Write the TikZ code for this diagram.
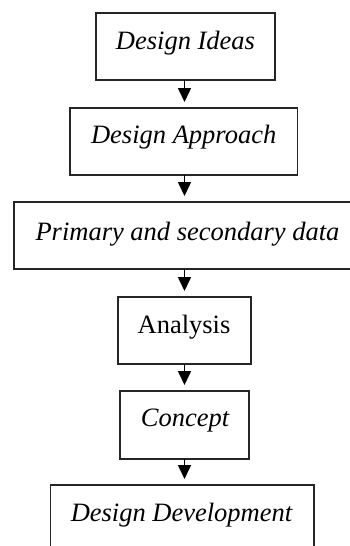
\documentclass[tikz,border=0pt]{standalone}
\usepackage{fontspec}
\setmainfont{Liberation Serif}
\usetikzlibrary{arrows.meta}
\begin{document}
\begin{tikzpicture}[x=1pt,y=-1pt,
  box/.style={draw=black!85,line width=1.1pt,inner sep=0pt,outer sep=0pt,rectangle},
  lbl/.style={anchor=base,inner sep=0pt,font=\fontsize{26.5}{30}\selectfont},
  arr/.style={line width=1.6pt,-{Triangle[length=14pt,width=13pt]},shorten >=6pt}]
\useasboundingbox (0,0) rectangle (350,546);
\clip (0,0) rectangle (350,546);
\fill[white] (0,0) rectangle (350,546);
\coordinate (ax) at (184.5,0);
\node[box,minimum width=179pt,minimum height=67pt] (b1) at (185.5,46.5) {};
\node[box,minimum width=227.5pt,minimum height=67pt] (b2) at (183.75,141.5) {};
\node[box,minimum width=348pt,minimum height=67pt] (b3) at (188,235.5) {};
\node[box,minimum width=133pt,minimum height=67pt] (b4) at (184.5,330.5) {};
\node[box,minimum width=129pt,minimum height=68pt] (b5) at (184.5,425) {};
\node[box,minimum width=263.5pt,minimum height=75pt] (b6) at (182.25,522.5) {};
\node[lbl] (t1) at (185.5,49.3) {\itshape Design Ideas};
\node[lbl] (t2) at (183.7,143) {\itshape Design Approach};
\node[lbl] (t3) at (187.5,240) {\itshape Primary and secondary data};
\node[lbl] (t4) at (184,333) {Analysis};
\node[lbl] (t5) at (185,426.7) {\itshape Concept};
\node[lbl] (t6) at (181.5,521) {\itshape Design Development};
\draw[arr] (b1.south -| ax) -- (b2.north -| ax);
\draw[arr] (b2.south -| ax) -- (b3.north -| ax);
\draw[arr] (b3.south -| ax) -- (b4.north -| ax);
\draw[arr] (b4.south -| ax) -- (b5.north -| ax);
\draw[arr] (b5.south -| ax) -- (b6.north -| ax);
\end{tikzpicture}
\end{document}
